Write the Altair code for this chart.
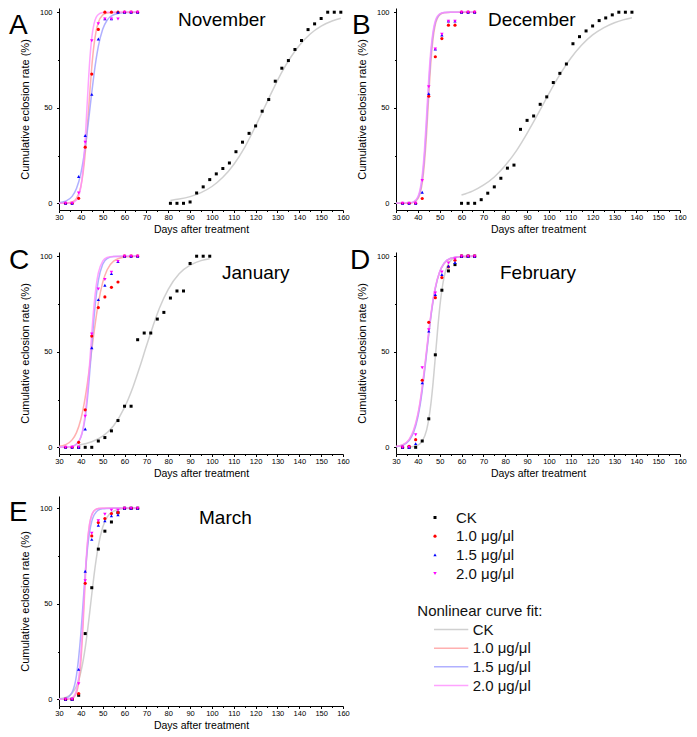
import altair as alt
import pandas as pd

FONT = "Liberation Sans"

# ---------------- series / labels ----------------
SERIES = ["CK", "1.0 μg/μl", "1.5 μg/μl", "2.0 μg/μl"]
POINT_COLORS = ["#000000", "#ff0000", "#0000ff", "#ff00ff"]
POINT_SHAPES = ["square", "circle", "triangle-up", "triangle-down"]
POINT_SIZES = [9, 12, 16, 16]
CURVE_COLORS = ["#c4c4c4", "#ff9c9c", "#9c9cff", "#ff8cff"]
CURVE_TITLE = "Nonlinear curve fit:"
PANELS = ["A", "B", "C", "D", "E"]
MONTHS = ["November", "December", "January", "February", "March"]
X_TITLE = "Days after treatment"
Y_TITLE = "Cumulative eclosion rate (%)"

# ---------------- observed points ----------------
DAYS_T = [33, 36, 39, 42, 45, 48, 51, 54, 57, 60, 63, 66]

A_CK_DAYS = [81, 84, 87, 90, 93, 96, 99, 102, 105, 108, 111, 114, 117, 120,
             123, 126, 129, 132, 135, 138, 141, 144, 147, 150, 153, 156, 159]
A_CK = [0, 0, 0, 0.7, 5.4, 8.6, 12.4, 15.4, 18.2, 21.1, 27.0, 32.0, 36.6, 40.5,
        48.2, 54.3, 63.9, 70.7, 74.7, 80.5, 85.2, 90.9, 93.9, 96.7, 100, 100, 100]
A_10 = [0, 0, 2.6, 29.4, 67.6, 91.0, 100, 100, 100, 100, 100, 100]
A_15 = [0, 0, 14.0, 35.5, 57.0, 86.0, 96.5, 96.5, 100, 100, 100, 100]
A_20 = [0, 0, 5.4, 32.0, 85.0, 94.0, 96.5, 96.5, 96.5, 100, 100, 100]

B_CK_DAYS = [60, 63, 66, 69, 72, 75, 78, 81, 84, 87, 90, 93, 96, 99,
             102, 105, 108, 111, 114, 117, 120, 123, 126, 129, 132, 135, 138]
B_CK = [0, 0, 0, 1.9, 5.3, 8.6, 13.1, 18.4, 20.0, 38.7, 43.4, 45.7, 51.8, 55.7,
        63.2, 68.0, 72.9, 83.5, 87.2, 90.2, 92.8, 95.6, 97.0, 98.6, 100, 100, 100]
B_10 = [0, 0, 0, 2.5, 56.0, 76.7, 86.2, 93.2, 93.2, 100, 100, 100]
B_15 = [0, 0, 0, 5.8, 57.4, 80.7, 88.1, 95.3, 95.3, 100, 100, 100]
B_20 = [0, 0, 0, 11.9, 61.0, 80.7, 88.4, 95.3, 95.3, 100, 100, 100]

C_CK_DAYS = [39, 42, 45, 48, 51, 54, 57, 60, 63, 66, 69, 72, 75, 78, 81, 84,
             87, 90, 93, 96, 99]
C_CK = [0, 0, 0, 3.3, 5.1, 8.6, 14.0, 21.5, 21.5, 56.3, 59.8, 59.8, 67.1, 70.6,
        78.1, 81.8, 81.8, 96.2, 100, 100, 100]
C_10 = [0, 0, 2.6, 19.6, 58.2, 73.1, 78.7, 83.7, 86.5, 100, 100, 100]
C_15 = [0, 0, 0, 9.6, 52.1, 77.3, 84.8, 90.9, 97.2, 100, 100, 100]
C_20 = [0, 0, 0, 16.3, 59.3, 82.9, 87.8, 91.6, 97.2, 100, 100, 100]

D_CK = [0, 0, 0, 3.3, 14.9, 48.4, 82.2, 92.3, 95.6, 100, 100, 100]
D_10 = [0, 0.5, 4.0, 35.1, 65.4, 78.3, 88.8, 94.4, 97.9, 100, 100, 100]
D_15 = [0, 0, 1.9, 33.7, 60.8, 79.9, 90.4, 94.8, 96.7, 100, 100, 100]
D_20 = [0, 0, 6.6, 41.6, 61.5, 80.8, 91.8, 96.5, 98.6, 100, 100, 100]

E_CK = [0, 0, 2.1, 34.4, 58.4, 78.6, 88.0, 92.8, 97.7, 100, 100, 100]
E_10 = [0, 0, 3.0, 60.7, 85.5, 92.5, 94.6, 97.2, 97.7, 100, 100, 100]
E_15 = [0, 0, 15.7, 67.0, 83.7, 91.1, 93.4, 96.0, 96.6, 100, 100, 100]
E_20 = [0, 0, 8.2, 62.0, 86.9, 93.4, 96.9, 99.0, 99.0, 100, 100, 100]

# ---------------- fitted curves ----------------
FIT_DAYS_T = [30, 33, 36, 38, 40, 41, 42, 43, 44, 45, 46, 47, 48, 50, 52, 55, 60, 66]

A_10_FIT = [0.0, 0.1, 0.7, 2.6, 8.8, 15.6, 26.1, 40.4, 56.5, 71.3, 82.6, 90.1, 94.6, 98.5, 99.6, 99.9, 100, 100]
A_15_FIT = [0.3, 1.1, 3.6, 7.7, 15.7, 21.8, 29.3, 38.2, 48.0, 57.9, 67.3, 75.4, 82.1, 91.1, 95.8, 98.7, 99.8, 100]
A_20_FIT = [0.0, 0.0, 0.3, 1.7, 8.5, 17.8, 33.6, 54.2, 73.5, 86.6, 93.8, 97.3, 98.8, 99.8, 100, 100, 100, 100]
A_CK_FIT_DAYS = [81, 85, 90, 95, 100, 105, 110, 115, 120, 124, 128, 132, 136, 140, 145, 150, 155, 159]
A_CK_FIT = [1.5, 2.2, 3.5, 5.6, 8.8, 13.6, 20.3, 29.3, 40.4, 50.0, 59.6, 68.6, 76.3, 82.6, 88.6, 92.7, 95.4, 96.8]

B_10_FIT = [0.0, 0.0, 0.1, 0.5, 2.3, 5.0, 10.5, 20.8, 36.5, 56.5, 74.5, 86.5, 93.5, 98.6, 99.7, 100, 100, 100]
B_15_FIT = [0.0, 0.0, 0.1, 0.6, 2.9, 6.2, 12.8, 24.6, 42.1, 61.8, 78.2, 88.9, 94.7, 98.9, 99.8, 100, 100, 100]
B_20_FIT = [0.0, 0.0, 0.1, 0.7, 3.4, 7.2, 14.7, 27.5, 46.0, 65.6, 80.8, 90.3, 95.5, 99.1, 99.8, 100, 100, 100]
B_CK_FIT_DAYS = [60, 65, 70, 75, 80, 85, 90, 95, 100, 105, 110, 115, 120, 125, 130, 134, 138]
B_CK_FIT = [4.3, 6.4, 9.5, 13.8, 19.8, 27.3, 36.6, 46.8, 57.4, 67.3, 75.9, 82.8, 88.1, 91.8, 94.5, 96.0, 97.1]

C_10_FIT = [0.5, 1.4, 3.9, 7.7, 14.7, 19.8, 26.1, 33.6, 42.1, 51.0, 59.9, 68.1, 75.4, 86.3, 92.8, 97.4, 99.6, 100]
C_15_FIT = [0.0, 0.1, 0.5, 1.7, 5.3, 9.3, 15.7, 25.3, 38.2, 53.0, 67.3, 78.9, 87.2, 95.8, 98.7, 99.8, 100, 100]
C_20_FIT = [0.0, 0.0, 0.4, 1.5, 5.4, 9.9, 17.4, 28.7, 43.5, 59.6, 73.9, 84.4, 91.2, 97.4, 99.3, 99.9, 100, 100]
C_CK_FIT_DAYS = [39, 45, 50, 55, 60, 64, 67, 70, 73, 76, 80, 85, 90, 95, 99]
C_CK_FIT = [1.2, 2.9, 5.8, 11.3, 20.9, 32.0, 42.1, 53.0, 63.4, 72.9, 82.7, 90.8, 95.3, 97.7, 98.7]

D_10_FIT = [0.4, 1.2, 3.9, 8.3, 16.8, 23.1, 31.0, 40.1, 50.0, 59.9, 69.0, 76.9, 83.2, 91.7, 96.1, 98.8, 99.8, 100]
D_15_FIT = [0.3, 1.0, 3.5, 7.6, 15.7, 21.8, 29.7, 38.9, 49.0, 59.1, 68.6, 76.7, 83.2, 91.8, 96.3, 98.9, 99.8, 100]
D_20_FIT = [0.4, 1.3, 4.2, 8.9, 17.4, 23.8, 31.9, 41.1, 51.0, 60.8, 69.9, 77.7, 83.8, 92.0, 96.3, 98.9, 99.8, 100]
D_CK_FIT_DAYS = [36, 38, 40, 42, 44, 45, 46, 47, 48, 49, 50, 52, 54, 57, 60, 66]
D_CK_FIT = [0.1, 0.4, 1.1, 3.2, 9.0, 14.7, 23.0, 34.1, 47.3, 60.8, 72.9, 89.0, 96.0, 99.2, 99.8, 100]

E_10_FIT = [0.0, 0.0, 0.5, 3.5, 19.3, 38.2, 61.7, 80.7, 91.5, 96.5, 98.6, 99.5, 99.8, 100, 100, 100, 100, 100]
E_15_FIT = [0.1, 0.5, 3.7, 12.5, 34.3, 50.0, 65.7, 78.6, 87.5, 93.1, 96.3, 98.0, 99.0, 99.7, 99.9, 100, 100, 100]
E_20_FIT = [0.0, 0.1, 0.8, 4.9, 23.7, 43.3, 65.2, 82.2, 91.9, 96.5, 98.6, 99.4, 99.8, 100, 100, 100, 100, 100]
E_CK_FIT = [0.3, 1.0, 3.2, 6.9, 14.2, 19.8, 26.9, 35.4, 45.0, 55.0, 64.6, 73.1, 80.2, 90.0, 95.3, 98.5, 99.8, 99.9]

# legend rows (index on a small ordinal grid)
LEG_POINT_ROWS = [0, 1, 2, 3]
LEG_TITLE_ROW = [5]
LEG_LINE_ROWS = [6, 7, 8, 9]

# ---------------- tables ----------------
POINT_SETS = [
    ("A", 0, A_CK_DAYS, A_CK), ("A", 1, DAYS_T, A_10), ("A", 2, DAYS_T, A_15), ("A", 3, DAYS_T, A_20),
    ("B", 0, B_CK_DAYS, B_CK), ("B", 1, DAYS_T, B_10), ("B", 2, DAYS_T, B_15), ("B", 3, DAYS_T, B_20),
    ("C", 0, C_CK_DAYS, C_CK), ("C", 1, DAYS_T, C_10), ("C", 2, DAYS_T, C_15), ("C", 3, DAYS_T, C_20),
    ("D", 0, DAYS_T, D_CK), ("D", 1, DAYS_T, D_10), ("D", 2, DAYS_T, D_15), ("D", 3, DAYS_T, D_20),
    ("E", 0, DAYS_T, E_CK), ("E", 1, DAYS_T, E_10), ("E", 2, DAYS_T, E_15), ("E", 3, DAYS_T, E_20),
]
CURVE_SETS = [
    ("A", 0, A_CK_FIT_DAYS, A_CK_FIT), ("A", 1, FIT_DAYS_T, A_10_FIT), ("A", 2, FIT_DAYS_T, A_15_FIT), ("A", 3, FIT_DAYS_T, A_20_FIT),
    ("B", 0, B_CK_FIT_DAYS, B_CK_FIT), ("B", 1, FIT_DAYS_T, B_10_FIT), ("B", 2, FIT_DAYS_T, B_15_FIT), ("B", 3, FIT_DAYS_T, B_20_FIT),
    ("C", 0, C_CK_FIT_DAYS, C_CK_FIT), ("C", 1, FIT_DAYS_T, C_10_FIT), ("C", 2, FIT_DAYS_T, C_15_FIT), ("C", 3, FIT_DAYS_T, C_20_FIT),
    ("D", 0, D_CK_FIT_DAYS, D_CK_FIT), ("D", 1, FIT_DAYS_T, D_10_FIT), ("D", 2, FIT_DAYS_T, D_15_FIT), ("D", 3, FIT_DAYS_T, D_20_FIT),
    ("E", 0, FIT_DAYS_T, E_CK_FIT), ("E", 1, FIT_DAYS_T, E_10_FIT), ("E", 2, FIT_DAYS_T, E_15_FIT), ("E", 3, FIT_DAYS_T, E_20_FIT),
]


def build(sets):
    return pd.concat(
        [pd.DataFrame({"panel": p, "series": SERIES[s], "order": s, "day": d, "rate": v})
         for p, s, d, v in sets],
        ignore_index=True,
    )


points = build(POINT_SETS)
curves = build(CURVE_SETS)

# ---------------- layout settings ----------------
W = 284
LAYOUT = {
    "A": dict(h=202, ytop=102.2, lx=-50, ly=26, mx=119, my=18),
    "B": dict(h=202, ytop=102.2, lx=-44, ly=26, mx=92, my=18),
    "C": dict(h=202, ytop=102.2, lx=-50, ly=16.5, mx=163, my=26.8),
    "D": dict(h=202, ytop=102.2, lx=-46, ly=16.5, mx=104, my=26.8),
    "E": dict(h=210, ytop=106.4, lx=-50, ly=24.9, mx=140, my=27.5),
}

fill_scale = alt.Scale(domain=SERIES, range=POINT_COLORS)
shape_scale = alt.Scale(domain=SERIES, range=POINT_SHAPES)
size_scale = alt.Scale(domain=SERIES, range=POINT_SIZES)
stroke_scale = alt.Scale(domain=SERIES, range=CURVE_COLORS)

x_axis = alt.Axis(
    values=list(range(30, 161, 5)),
    labelExpr="datum.value % 10 == 0 ? datum.label : ''",
    title=X_TITLE, grid=False,
    domainColor="#000000", domainWidth=1, tickColor="#000000", tickWidth=1,
    tickSize={"condition": {"test": "datum.value % 10 == 0", "value": 2.5}, "value": 1.5},
    labelFont=FONT, labelFontSize=7.5, labelColor="#000000", labelPadding=0.5,
    labelFlush=False, labelOverlap=False,
    titleFont=FONT, titleFontSize=10.5, titleFontWeight="normal", titleColor="#000000",
    titlePadding=3.5,
)
y_axis = alt.Axis(
    values=[0, 25, 50, 75, 100],
    labelExpr="datum.value % 50 == 0 ? datum.label : ''",
    title=Y_TITLE, grid=False,
    domainColor="#000000", domainWidth=1, tickColor="#000000", tickWidth=1,
    tickSize={"condition": {"test": "datum.value % 50 == 0", "value": 2.5}, "value": 1.5},
    labelFont=FONT, labelFontSize=7.5, labelColor="#000000", labelPadding=4.5,
    labelFlush=False, labelOverlap=False,
    titleFont=FONT, titleFontSize=11, titleFontWeight="normal", titleColor="#000000",
    titlePadding=9,
)


def make_panel(letter, month):
    cfg = LAYOUT[letter]
    xs = alt.Scale(domain=[30, 160], nice=False, zero=False)
    ys = alt.Scale(domain=[-3.5, cfg["ytop"]], nice=False, zero=False)
    X = alt.X("day:Q", scale=xs, axis=x_axis)
    Y = alt.Y("rate:Q", scale=ys, axis=y_axis)

    crv = (
        alt.Chart(curves)
        .transform_filter(alt.datum.panel == letter)
        .mark_line(interpolate="monotone", strokeWidth=1.5, strokeOpacity=0.8)
        .encode(x=X, y=Y,
                stroke=alt.Stroke("series:N", scale=stroke_scale, legend=None),
                order=alt.Order("day:Q"))
    )
    pts = (
        alt.Chart(points)
        .transform_filter(alt.datum.panel == letter)
        .mark_point(filled=True, opacity=1, strokeWidth=0)
        .encode(x=X, y=Y,
                fill=alt.Fill("series:N", scale=fill_scale, legend=None),
                shape=alt.Shape("series:N", scale=shape_scale, legend=None),
                size=alt.Size("series:O", scale=size_scale, legend=None))
    )
    let = (
        alt.Chart(pd.DataFrame({"t": [letter]}))
        .mark_text(align="left", baseline="alphabetic", font=FONT, fontSize=28, color="#000000")
        .encode(text="t:N", x=alt.value(cfg["lx"]), y=alt.value(cfg["ly"]))
    )
    mon = (
        alt.Chart(pd.DataFrame({"t": [month]}))
        .mark_text(align="left", baseline="alphabetic", font=FONT, fontSize=19, color="#000000")
        .encode(text="t:N", x=alt.value(cfg["mx"]), y=alt.value(cfg["my"]))
    )
    return alt.layer(crv, pts, let, mon).properties(width=W, height=cfg["h"])


panels = [make_panel(p, m) for p, m in zip(PANELS, MONTHS)]

# ---------------- legend panel ----------------
leg_df = pd.DataFrame({"series": SERIES, "prow": LEG_POINT_ROWS, "lrow": LEG_LINE_ROWS})
leg_title_df = pd.DataFrame({"t": [CURVE_TITLE], "row": LEG_TITLE_ROW})
ly = alt.Scale(domain=[-1.152, 10.096], reverse=True, nice=False, zero=False)

leg_pts = alt.Chart(leg_df).mark_point(filled=True, opacity=1, strokeWidth=0).encode(
    x=alt.value(39), y=alt.Y("prow:Q", scale=ly, axis=None),
    fill=alt.Fill("series:N", scale=fill_scale, legend=None),
    shape=alt.Shape("series:N", scale=shape_scale, legend=None),
    size=alt.Size("series:O", scale=size_scale, legend=None),
)
leg_pt_txt = alt.Chart(leg_df).mark_text(align="left", baseline="middle", font=FONT, fontSize=15, color="#111111").encode(
    x=alt.value(60), y=alt.Y("prow:Q", scale=ly, axis=None), text="series:N")
leg_lines = alt.Chart(leg_df).mark_rule(strokeWidth=1.5, strokeOpacity=0.8).encode(
    x=alt.value(38), x2=alt.value(72.3), y=alt.Y("lrow:Q", scale=ly, axis=None),
    stroke=alt.Stroke("series:N", scale=stroke_scale, legend=None))
leg_line_txt = alt.Chart(leg_df).mark_text(align="left", baseline="middle", font=FONT, fontSize=15, color="#111111").encode(
    x=alt.value(76.7), y=alt.Y("lrow:Q", scale=ly, axis=None), text="series:N")
leg_title = alt.Chart(leg_title_df).mark_text(align="left", baseline="middle", font=FONT, fontSize=15, color="#111111").encode(
    x=alt.value(21.3), y=alt.Y("row:Q", scale=ly, axis=None), text="t:N")

legend_panel = alt.layer(leg_lines, leg_pts, leg_pt_txt, leg_line_txt, leg_title).properties(width=W, height=210)

chart = (
    alt.concat(*panels, legend_panel, columns=2, spacing={"row": 42, "column": 53}, bounds="flush")
    .properties(padding={"left": 1, "top": 0, "right": 0, "bottom": 0})
    .configure(font=FONT)
    .configure_view(strokeWidth=0)
)

chart.save("out.html", embed_options={"renderer": "svg", "actions": False})
